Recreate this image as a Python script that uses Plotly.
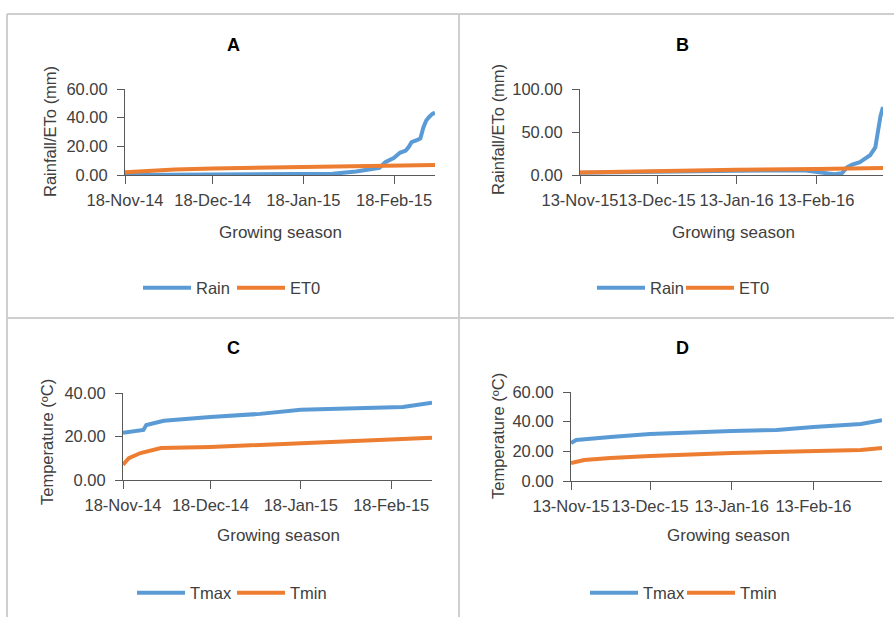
import plotly.graph_objects as go

# ---------------- data ----------------
# Panel A: 2014/15 season, rainfall and ET0 (mm)
rain_a_dates = ["2014-11-18", "2015-01-15", "2015-01-28", "2015-02-05", "2015-02-13",
                "2015-02-15", "2015-02-18", "2015-02-20", "2015-02-22", "2015-02-23",
                "2015-02-24", "2015-02-26", "2015-02-27", "2015-02-28", "2015-03-01",
                "2015-03-02", "2015-03-03", "2015-03-04"]
rain_a = [0.0, 0.2, 0.8, 2.5, 5.0, 9.0, 12.0, 15.5, 17.0, 19.5, 23.0, 24.5, 25.5,
          33.0, 38.0, 40.5, 42.5, 43.5]
et0_a_dates = ["2014-11-18", "2014-11-25", "2014-12-05", "2014-12-18", "2015-01-01",
               "2015-01-18", "2015-02-01", "2015-02-18", "2015-03-04"]
et0_a = [2.0, 2.8, 3.8, 4.6, 5.0, 5.4, 5.8, 6.4, 7.0]

# Panel B: 2015/16 season, rainfall and ET0 (mm)
rain_b_dates = ["2015-11-13", "2015-12-13", "2016-01-13", "2016-02-08", "2016-02-15",
                "2016-02-20", "2016-02-23", "2016-02-25", "2016-02-27", "2016-03-01",
                "2016-03-03", "2016-03-05", "2016-03-07", "2016-03-08", "2016-03-09",
                "2016-03-10"]
rain_b = [2.5, 4.0, 5.0, 5.5, 3.0, 1.0, 2.0, 9.0, 12.0, 15.0, 19.0, 23.0, 32.0,
          50.0, 68.0, 79.0]
et0_b_dates = ["2015-11-13", "2015-12-13", "2016-01-13", "2016-02-13", "2016-03-10"]
et0_b = [3.0, 5.0, 6.0, 7.0, 8.0]

# Panel C: 2014/15 season temperature (degC)
tmax_c_dates = ["2014-11-18", "2014-11-25", "2014-11-26", "2014-12-02", "2014-12-18",
                "2015-01-04", "2015-01-18", "2015-02-18", "2015-02-22", "2015-03-04"]
tmax_c = [21.7, 23.0, 25.3, 27.2, 29.0, 30.4, 32.3, 33.2, 33.6, 35.5]
tmin_c_dates = ["2014-11-18", "2014-11-20", "2014-11-24", "2014-12-01", "2014-12-18",
                "2015-01-18", "2015-02-18", "2015-03-04"]
tmin_c = [7.0, 10.0, 12.4, 14.7, 15.2, 17.0, 18.4, 19.4]

# Panel D: 2015/16 season temperature (degC)
tmax_d_dates = ["2015-11-13", "2015-11-15", "2015-11-28", "2015-12-13", "2016-01-13",
                "2016-01-30", "2016-02-13", "2016-03-02", "2016-03-10"]
tmax_d = [25.6, 27.6, 29.7, 31.7, 33.7, 34.4, 36.4, 38.4, 41.0]
tmin_d_dates = ["2015-11-13", "2015-11-18", "2015-11-28", "2015-12-13", "2016-01-13",
                "2016-02-13", "2016-03-02", "2016-03-10"]
tmin_d = [12.1, 14.2, 15.5, 16.9, 18.9, 20.2, 20.9, 22.3]

ticks_1415 = ["2014-11-18", "2014-12-18", "2015-01-18", "2015-02-18"]
ticks_1516 = ["2015-11-13", "2015-12-13", "2016-01-13", "2016-02-13"]
yticks_a = [0, 20, 40, 60]
yticks_b = [0, 50, 100]
yticks_c = [0, 20, 40]
yticks_d = [0, 20, 40, 60]

# ---------------- styling ----------------
W, H = 894, 617
BLUE = "#5B9BD5"
ORANGE = "#ED7D31"
TXT = "#404040"
AX = "#595959"
FONT = "Liberation Sans, Arial, sans-serif"
LW = 4


def px(x):
    return x / W


def py(y):
    return 1 - y / H


fig = go.Figure()


def add(xs, ys, name, color, xa, ya, leg):
    fig.add_trace(go.Scatter(x=xs, y=ys, name=name, mode="lines",
                             line=dict(color=color, width=LW),
                             xaxis=xa, yaxis=ya, legend=leg, hoverinfo="x+y+name"))


add(rain_a_dates, rain_a, "Rain", BLUE, "x", "y", "legend")
add(et0_a_dates, et0_a, "ET0", ORANGE, "x", "y", "legend")
add(rain_b_dates, rain_b, "Rain", BLUE, "x2", "y2", "legend2")
add(et0_b_dates, et0_b, "ET0", ORANGE, "x2", "y2", "legend2")
add(tmax_c_dates, tmax_c, "Tmax", BLUE, "x3", "y3", "legend3")
add(tmin_c_dates, tmin_c, "Tmin", ORANGE, "x3", "y3", "legend3")
add(tmax_d_dates, tmax_d, "Tmax", BLUE, "x4", "y4", "legend4")
add(tmin_d_dates, tmin_d, "Tmin", ORANGE, "x4", "y4", "legend4")


def xax(dom, rng, ticks, anchor):
    return dict(domain=dom, range=rng, type="date", tickvals=ticks,
                tickformat="%d-%b-%y", tickangle=0, anchor=anchor, automargin=False,
                showline=True, linecolor=AX, linewidth=1, showgrid=False,
                zeroline=False, ticks="outside", ticklen=8, tickcolor=AX,
                tickfont=dict(family=FONT, size=16.5, color=TXT),
                ticklabelstandoff=2, fixedrange=True)


def yax(dom, rng, ticks, anchor):
    return dict(domain=dom, range=rng, tickvals=ticks, tickformat=".2f",
                anchor=anchor, automargin=False, showline=True, linecolor=AX,
                linewidth=1, showgrid=False, zeroline=False, ticks="outside",
                ticklen=7, tickcolor=AX,
                tickfont=dict(family=FONT, size=16.5, color=TXT),
                ticklabelstandoff=6, fixedrange=True)


def leg(x0, yc, ew):
    return dict(orientation="h", x=px(x0), y=py(yc), xanchor="left",
                yanchor="middle", itemwidth=48, entrywidth=ew,
                entrywidthmode="pixels",
                font=dict(family=FONT, size=16.5, color=TXT),
                bgcolor="rgba(0,0,0,0)", borderwidth=0)


fig.update_layout(
    width=W, height=H, margin=dict(l=0, r=0, t=0, b=0, autoexpand=False),
    paper_bgcolor="white", plot_bgcolor="white",
    font=dict(family=FONT, color=TXT),
    xaxis=xax([px(125), px(435)], ["2014-11-18", "2015-03-04"], ticks_1415, "y"),
    yaxis=yax([py(175), py(89)], [0, 60], yticks_a, "x"),
    xaxis2=xax([px(580), px(883)], ["2015-11-13", "2016-03-10"], ticks_1516, "y2"),
    yaxis2=yax([py(175), py(89)], [0, 100], yticks_b, "x2"),
    xaxis3=xax([px(123), px(432)], ["2014-11-18", "2015-03-04"], ticks_1415, "y3"),
    yaxis3=yax([py(480), py(393)], [0, 40], yticks_c, "x3"),
    xaxis4=xax([px(571), px(882)], ["2015-11-13", "2016-03-10"], ticks_1516, "y4"),
    yaxis4=yax([py(481), py(392)], [0, 60], yticks_d, "x4"),
    legend=leg(138, 288, 31),
    legend2=leg(592, 288, 26),
    legend3=leg(132, 593, 37),
    legend4=leg(585, 593, 34),
)

# panel letters and axis titles
annos = [
    ("A", 233, 45, 0, 18, True), ("B", 682, 45, 0, 18, True),
    ("C", 233, 348, 0, 18, True), ("D", 682, 348, 0, 18, True),
    ("Growing season", 280, 232, 0, 17, False),
    ("Growing season", 733, 232, 0, 17, False),
    ("Growing season", 278, 535, 0, 17, False),
    ("Growing season", 728, 535, 0, 17, False),
    ("Rainfall/ETo (mm)", 50, 132, -90, 16.5, False),
    ("Rainfall/ETo (mm)", 498, 130, -90, 16.5, False),
    ("Temperature (ºC)", 47, 442, -90, 16.5, False),
    ("Temperature (ºC)", 498, 436, -90, 16.5, False),
]
for text, x, y, ang, size, bold in annos:
    fig.add_annotation(text=f"<b>{text}</b>" if bold else text, x=px(x), y=py(y),
                       xref="paper", yref="paper", showarrow=False, textangle=ang,
                       xanchor="center", yanchor="middle",
                       font=dict(family=FONT, size=size,
                                 color="black" if bold else TXT))

# panel frame lines
FR = "#cfcfcf"
for x0, y0, x1, y1 in [(7, 14, 894, 14), (7, 14, 7, 617), (459, 14, 459, 617),
                       (7, 318, 894, 318)]:
    fig.add_shape(type="line", xref="paper", yref="paper", x0=px(x0), y0=py(y0),
                  x1=px(x1), y1=py(y1), line=dict(color=FR, width=2))

fig.write_html("out.html", config={"displayModeBar": False},
               post_script="document.body.style.margin='0';document.body.style.overflow='hidden';")
